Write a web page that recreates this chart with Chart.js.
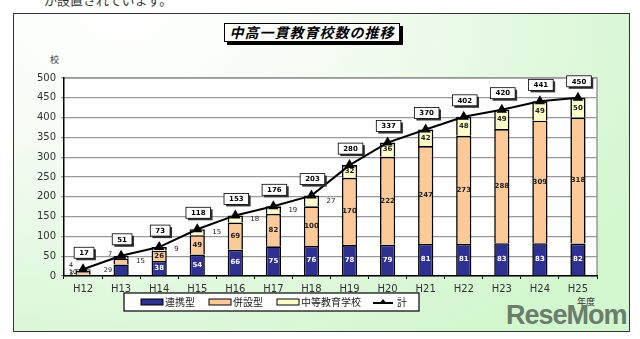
<!DOCTYPE html>
<html>
<head>
<meta charset="utf-8">
<script src="https://cdn.jsdelivr.net/npm/chart.js@4.4.0/dist/chart.umd.min.js"></script>
<style>
  html, body { margin: 0; padding: 0; background: #fff; }
  body { width: 640px; height: 339px; position: relative; overflow: hidden; font-family: "Noto Sans CJK JP", sans-serif; }
  #topText { position: absolute; left: 44px; top: -10px; font-size: 13px; color: #333; }
  #frame {
    position: absolute; left: 13px; top: 13px; width: 615px; height: 317px;
    border: 1.5px solid #333;
    background: radial-gradient(ellipse 95% 120% at 18% 0%, #ffffff 0%, #f6fcf4 35%, #d2f6ce 100%);
  }
  #title {
    position: absolute; left: 224px; top: 23px; width: 174px; height: 17px;
    border: 1px solid #000; background: #fff; box-shadow: 3px 3px 0 #000;
    font-size: 14px; line-height: 17px; font-weight: bold; font-style: italic;
    text-align: center; letter-spacing: 1px; color: #000;
  }
  #unit { position: absolute; left: 50px; top: 53px; font-size: 9px; color: #333; }
  #nendo { position: absolute; left: 577px; top: 295px; font-size: 9px; color: #333; }
  #mark { position: absolute; left: 506px; top: 302px; font-family: "Liberation Sans", Arial, sans-serif; font-weight: bold; font-size: 27px; line-height: 27px; color: #6b7d6b; letter-spacing: -1px; }
  #wrap { position: absolute; left: 0; top: 0; width: 640px; height: 339px; }
</style>
</head>
<body>
<div id="topText">が設置されています。</div>
<div id="frame"></div>
<div id="title">中高一貫教育校数の推移</div>
<div id="unit">校</div>
<div id="nendo">年度</div>
<div id="mark">ReseMom</div>
<div id="wrap"><canvas id="c" width="640" height="339"></canvas></div>
<script>
// fiscal years (Heisei)
const years = ['H12', 'H13', 'H14', 'H15', 'H16', 'H17', 'H18', 'H19', 'H20', 'H21', 'H22', 'H23', 'H24', 'H25'];
const renkei = [3, 29, 38, 54, 66, 75, 76, 78, 79, 81, 81, 83, 83, 82];
const heisetsu = [10, 15, 26, 49, 69, 82, 100, 170, 222, 247, 273, 288, 309, 318];
const chuto = [4, 7, 9, 15, 18, 19, 27, 32, 36, 42, 48, 49, 49, 50];
const totals = [17, 51, 73, 118, 153, 176, 203, 280, 337, 370, 402, 420, 441, 450];
const yTicks = [0, 50, 100, 150, 200, 250, 300, 350, 400, 450, 500];

const numFont = '"DejaVu Sans", Verdana, sans-serif';
const jpFont = '"Noto Sans CJK JP", sans-serif';

// labels that sit beside the bar instead of inside it
const outside = { '0:0': 'left', '1:0': 'left', '2:0': 'left', '0:1': 'left', '1:1': 'right', '2:1': 'left' };

const plotBg = {
  id: 'plotBg',
  beforeDraw(chart) {
    const { ctx, chartArea: a } = chart;
    ctx.save();
    ctx.fillStyle = '#fff';
    ctx.fillRect(a.left, a.top, a.right - a.left, a.bottom - a.top);
    ctx.strokeStyle = '#999';
    ctx.lineWidth = 1.5;
    ctx.beginPath();
    ctx.moveTo(a.left, a.top); ctx.lineTo(a.right, a.top); ctx.lineTo(a.right, a.bottom);
    ctx.stroke();
    ctx.restore();
  }
};

const labels = {
  id: 'labels',
  afterDatasetsDraw(chart) {
    const ctx = chart.ctx;
    ctx.save();
    ctx.textBaseline = 'middle';
    for (let d = 0; d < 3; d++) {
      const meta = chart.getDatasetMeta(d);
      const vals = chart.data.datasets[d].data;
      meta.data.forEach((el, i) => {
        const h = el.base - el.y;
        let x = el.x, y = (el.y + el.base) / 2;
        let side = outside[d + ':' + i];
        if (!side && d === 2 && h < 12) side = 'right';
        ctx.font = 'bold 7px ' + numFont;
        if (side === 'left') {
          ctx.textAlign = 'right'; ctx.fillStyle = '#222';
          ctx.font = '6.5px ' + numFont;
          if (i === 0) {
            x = el.x - (d === 1 ? 6 : 10);
            y = d === 2 ? el.y - 4 : (d === 1 ? el.y + 1 : el.y + 1);
            if (d === 0) y = el.base - 2;
          } else {
            x = el.x - 9;
            y = d === 2 ? el.y - 1 : y;
          }
        } else if (side === 'right') {
          x = el.x + 15; ctx.textAlign = 'left'; ctx.fillStyle = '#222';
          ctx.font = '7px ' + numFont;
        } else {
          ctx.textAlign = 'center';
          ctx.fillStyle = d === 0 ? '#fff' : '#222';
        }
        ctx.fillText(vals[i], x, y);
      });
    }
    // boxed totals
    const lm = chart.getDatasetMeta(3);
    lm.data.forEach((el, i) => {
      const t = String(totals[i]);
      ctx.font = 'bold 7px ' + numFont;
      const w = ctx.measureText(t).width + 10;
      const bx = el.x - w / 2 + 1, by = el.y - 22;
      ctx.fillStyle = '#333';
      ctx.fillRect(bx + 2, by + 2, w, 11);
      ctx.fillStyle = '#fff';
      ctx.fillRect(bx, by, w, 11);
      ctx.strokeStyle = '#000';
      ctx.lineWidth = 0.8;
      ctx.strokeRect(bx, by, w, 11);
      ctx.fillStyle = '#000';
      ctx.textAlign = 'center';
      ctx.fillText(t, bx + w / 2, by + 6);
    });
    ctx.restore();
  },
  afterDraw(chart) {
    // legend box
    const ctx = chart.ctx;
    ctx.save();
    const lx = 124, ly = 293, lw = 295, lh = 18;
    ctx.fillStyle = '#fff';
    ctx.fillRect(lx, ly, lw, lh);
    ctx.strokeStyle = '#000';
    ctx.lineWidth = 1.2;
    ctx.strokeRect(lx, ly, lw, lh);
    const cy = ly + lh / 2;
    const starts = [141, 209, 277, 373];
    ctx.font = '10px ' + jpFont;
    ctx.textBaseline = 'middle';
    ctx.textAlign = 'left';
    chart.data.datasets.forEach((ds, i) => {
      const sx = starts[i];
      if (i < 3) {
        ctx.fillStyle = ds.backgroundColor;
        ctx.fillRect(sx, cy - 3, 22, 6);
        ctx.strokeStyle = '#000';
        ctx.lineWidth = 1;
        ctx.strokeRect(sx, cy - 3, 22, 6);
      } else {
        ctx.strokeStyle = '#000';
        ctx.lineWidth = 2;
        ctx.beginPath(); ctx.moveTo(sx, cy + 1); ctx.lineTo(sx + 20, cy + 1); ctx.stroke();
        ctx.fillStyle = '#000';
        ctx.beginPath(); ctx.moveTo(sx + 10, cy - 3); ctx.lineTo(sx + 14, cy + 2); ctx.lineTo(sx + 6, cy + 2); ctx.closePath(); ctx.fill();
      }
      ctx.fillStyle = '#222';
      ctx.fillText(ds.label, sx + 24, cy);
    });
    ctx.restore();
  }
};

new Chart(document.getElementById('c'), {
  data: {
    labels: years,
    datasets: [
      { type: 'bar', label: '連携型', data: renkei, backgroundColor: '#2e3192', borderColor: '#000', borderWidth: 1.6, stack: 'a', order: 1 },
      { type: 'bar', label: '併設型', data: heisetsu, backgroundColor: '#fcc998', borderColor: '#000', borderWidth: 1.6, stack: 'a', order: 1 },
      { type: 'bar', label: '中等教育学校', data: chuto, backgroundColor: '#ffffcc', borderColor: '#000', borderWidth: 1.6, stack: 'a', order: 1 },
      { type: 'line', label: '計', data: totals, borderColor: '#000', borderWidth: 2, pointStyle: 'triangle', pointRadius: 4,
        pointBackgroundColor: '#000', pointBorderColor: '#000', stack: 'total', order: 0, tension: 0 }
    ]
  },
  options: {
    responsive: false,
    animation: false,
    layout: { padding: { left: 0, right: 43, top: 78, bottom: 0 } },
    plugins: { legend: { display: false }, tooltip: { enabled: false } },
    datasets: { bar: { barPercentage: 0.4, categoryPercentage: 1 } },
    scales: {
      x: {
        stacked: true,
        offset: true,
        grid: { offset: true, drawOnChartArea: false, color: '#000', tickLength: 3 },
        border: { color: '#000', width: 1.5 },
        ticks: { color: '#333', padding: 4, font: { family: numFont, size: 10 } },
        afterFit(s) { s.height = 63; }
      },
      y: {
        stacked: true,
        min: 0, max: 500,
        afterBuildTicks(s) { s.ticks = yTicks.map(v => ({ value: v })); },
        grid: { color: '#999', lineWidth: 1.2, tickLength: 3 },
        border: { color: '#000', width: 1.5 },
        ticks: { color: '#333', padding: 5, font: { family: numFont, size: 10 } },
        afterFit(s) { s.width = 64; }
      }
    }
  },
  plugins: [plotBg, labels]
});
</script>
</body>
</html>
